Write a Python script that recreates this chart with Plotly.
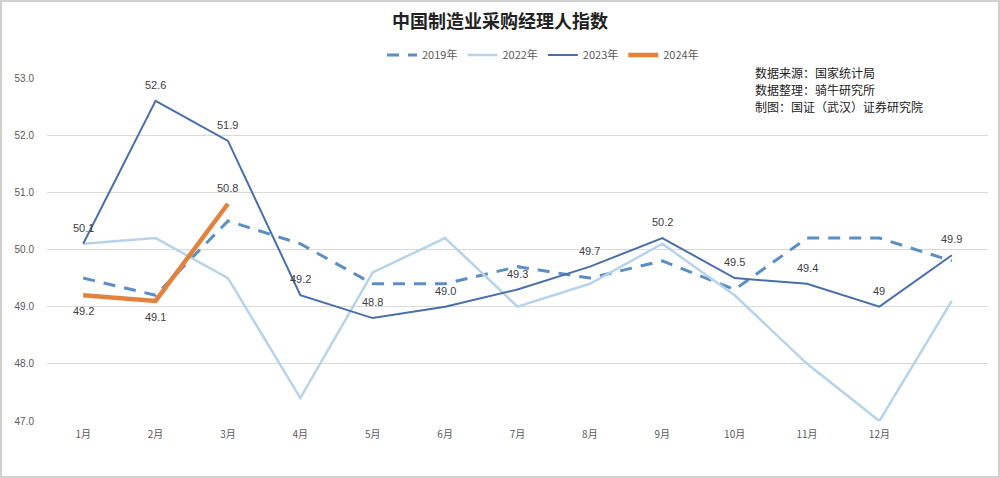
import plotly.graph_objects as go

months = ["1月", "2月", "3月", "4月", "5月", "6月", "7月", "8月", "9月", "10月", "11月", "12月", ""]
pmi_2019 = [49.5, 49.2, 50.5, 50.1, 49.4, 49.4, 49.7, 49.5, 49.8, 49.3, 50.2, 50.2, 49.8]
pmi_2022 = [50.1, 50.2, 49.5, 47.4, 49.6, 50.2, 49.0, 49.4, 50.1, 49.2, 48.0, 47.0, 49.1]
pmi_2023 = [50.1, 52.6, 51.9, 49.2, 48.8, 49.0, 49.3, 49.7, 50.2, 49.5, 49.4, 49.0, 49.9]
labels_2023 = ["50.1", "52.6", "51.9", "49.2", "48.8", "49.0", "49.3", "49.7", "50.2", "49.5", "49.4", "49", "49.9"]
pmi_2024 = [49.2, 49.1, 50.8]
labels_2024 = ["49.2", "49.1", "50.8"]
above_2024 = [False, False, True]

xs = list(range(len(months)))

fig = go.Figure()
label_font = dict(family="Liberation Sans, Arial", size=11, color="#404040")

fig.add_trace(go.Scatter(x=xs, y=pmi_2019, name="2019年", mode="lines",
                         line=dict(color="#5B8EC2", width=3, dash="12px,9px")))
fig.add_trace(go.Scatter(x=xs, y=pmi_2022, name="2022年", mode="lines",
                         line=dict(color="#B7D3EA", width=2.5)))
fig.add_trace(go.Scatter(x=xs, y=pmi_2023, name="2023年", mode="lines",
                         line=dict(color="#4A6FA8", width=2)))
fig.add_trace(go.Scatter(x=xs[:len(pmi_2024)], y=pmi_2024, name="2024年", mode="lines",
                         line=dict(color="#E2823E", width=4.5)))

for x, y, t in zip(xs, pmi_2023, labels_2023):
    fig.add_annotation(x=x, y=y, text=t, showarrow=False, yshift=16,
                       xanchor="center", yanchor="middle", font=label_font)
for x, y, t, up in zip(xs, pmi_2024, labels_2024, above_2024):
    fig.add_annotation(x=x, y=y, text=t, showarrow=False, yshift=16 if up else -16,
                       xanchor="center", yanchor="middle", font=label_font)

L, R, T, B = 47, 12, 78, 57
W, H = 1000, 478
pw, ph = W - L - R, H - T - B

fig.update_layout(
    width=W, height=H,
    margin=dict(l=L, r=R, t=T, b=B),
    paper_bgcolor="white", plot_bgcolor="white",
    title=dict(text="<b>中国制造业采购经理人指数</b>", x=0.5, xanchor="center",
               y=1 - 22 / H, yanchor="middle",
               font=dict(family="Noto Sans CJK SC", size=18, color="#222222")),
    legend=dict(orientation="h", x=(543 - L) / pw, xanchor="center",
                y=1 + (T - 55) / ph, yanchor="middle",
                font=dict(family="Noto Sans CJK SC", size=11, color="#595959"),
                itemwidth=30, tracegroupgap=0),
    xaxis=dict(range=[-0.5, len(months) - 0.5], tickvals=xs, ticktext=months,
               showgrid=False, zeroline=False, showline=False,
               tickfont=dict(family="Noto Sans CJK SC", size=10, color="#595959"),
               ticks="", ticklabelstandoff=6),
    yaxis=dict(range=[47, 53], dtick=1, tickformat=".1f",
               gridcolor="#D9D9D9", gridwidth=1, zeroline=False, showline=False,
               tickfont=dict(family="Liberation Sans, Arial", size=10, color="#595959"),
               ticks="", ticklabelstandoff=12),
    showlegend=True,
)

notes = ["数据来源：国家统计局", "数据整理：骑牛研究所", "制图：国证（武汉）证券研究院"]
for i, t in enumerate(notes):
    ypx = 72 + i * 17.5
    fig.add_annotation(text=t, xref="paper", yref="paper",
                       x=(753 - L) / pw, y=(H - B - ypx) / ph,
                       xanchor="left", yanchor="middle", showarrow=False,
                       font=dict(family="Noto Sans CJK SC", size=12, color="#222222"))

fig.add_shape(type="rect", xref="paper", yref="paper",
              x0=(1 - L) / pw, x1=(W - 1 - L) / pw,
              y0=(H - B - (H - 1)) / ph, y1=(H - B - 1) / ph,
              line=dict(color="#D0D0D0", width=2), fillcolor="rgba(0,0,0,0)", layer="below")

fig.write_html("out.html")
